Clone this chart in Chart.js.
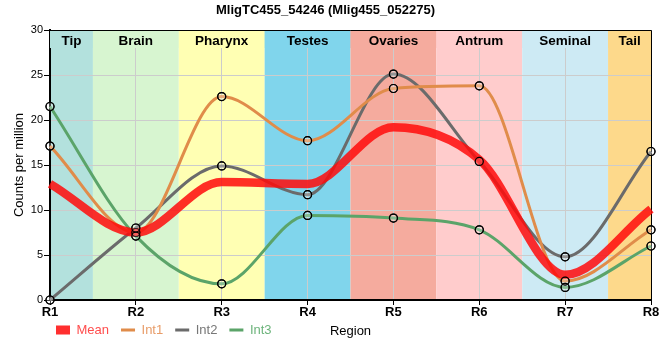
<!DOCTYPE html>
<html>
<head>
<meta charset="utf-8">
<script src="https://cdn.jsdelivr.net/npm/chart.js@4.4.0/dist/chart.umd.min.js"></script>
<style>
html,body{margin:0;padding:0;background:#fff;}
#wrap{width:660px;height:360px;}
</style>
</head>
<body>
<div id="wrap"><canvas id="c" width="660" height="360"></canvas></div>
<script>
// ---- data ----
const titleText = 'MligTC455_54246 (Mlig455_052275)';
const regions = ['R1', 'R2', 'R3', 'R4', 'R5', 'R6', 'R7', 'R8'];
const tissues = ['Tip', 'Brain', 'Pharynx', 'Testes', 'Ovaries', 'Antrum', 'Seminal', 'Tail'];
const meanVals = [12.9, 7.5, 13.1, 12.9, 19.2, 15.6, 2.8, 10.1];
const int1Vals = [17.1, 7.5, 22.6, 17.7, 23.5, 23.8, 2.1, 7.8];
const int2Vals = [0.0, 8.0, 14.9, 11.7, 25.1, 15.4, 4.8, 16.5];
const int3Vals = [21.5, 7.1, 1.8, 9.4, 9.1, 7.8, 1.4, 6.0];
const yTicks = [0, 5, 10, 15, 20, 25, 30];

// ---- styles ----
const bandColors = ['#b3e1dd', '#d7f5d0', '#ffffb3', '#80d5ec', '#f5ab9e', '#ffcccc', '#cdeaf4', '#fdd98b'];
const lineColors = ['rgba(255,10,10,0.85)', '#e08c4a', '#6b6b6b', '#5ba469'];
const legendTextColors = ['#ff4d4d', '#e89c68', '#777777', '#6db47c'];
const FONT = "'Liberation Sans', Arial, Helvetica, sans-serif";
Chart.defaults.font.family = FONT;
Chart.defaults.color = '#000';

const bandPlugin = {
  id: 'bands',
  beforeDraw(chart) {
    const {ctx, chartArea: a, scales: {x}} = chart;
    ctx.save();
    ctx.fillStyle = '#fff';
    ctx.fillRect(0, 0, chart.width, chart.height);
    tissues.forEach((t, i) => {
      const x0 = Math.max(a.left, x.getPixelForValue(i - 0.5));
      const x1 = Math.min(a.right, x.getPixelForValue(i + 0.5));
      ctx.fillStyle = bandColors[i];
      ctx.fillRect(x0, a.top, x1 - x0, a.bottom - a.top);
    });
    ctx.restore();
  },
  beforeDatasetsDraw(chart) {
    const {ctx, chartArea: a, scales: {x}} = chart;
    ctx.save();
    tissues.forEach((t, i) => {
      const x0 = Math.max(a.left, x.getPixelForValue(i - 0.5));
      const x1 = Math.min(a.right, x.getPixelForValue(i + 0.5));
      ctx.fillStyle = bandColors[i];
      ctx.fillRect(x0, a.top + 1, x1 - x0, 17);
      ctx.fillStyle = '#000';
      ctx.font = 'bold 13.5px ' + FONT;
      ctx.textAlign = 'center';
      ctx.textBaseline = 'middle';
      ctx.fillText(t, (x0 + x1) / 2, a.top + 11);
    });
    ctx.strokeStyle = '#000';
    ctx.lineWidth = 1;
    ctx.beginPath();
    ctx.moveTo(a.left, a.top + 0.5);
    ctx.lineTo(a.right + 0.5, a.top + 0.5);
    ctx.lineTo(a.right + 0.5, a.bottom);
    ctx.stroke();
    ctx.restore();
  },
  afterDatasetsDraw(chart) {
    const ctx = chart.ctx;
    for (let d = 1; d < chart.data.datasets.length; d++) {
      const meta = chart.getDatasetMeta(d);
      meta.data.forEach(pt => pt.draw(ctx));
    }
  },
  afterLayout(chart) {
    const lg = chart.legend;
    if (lg) {
      const dy = 13.5;
      lg.top -= dy; lg.bottom -= dy;
      lg.left = 44;
    }
  }
};

const mkLine = (label, data, i, w, pts) => ({
  label, data,
  borderColor: lineColors[i],
  backgroundColor: lineColors[i],
  borderWidth: w,
  fill: false,
  cubicInterpolationMode: 'monotone',
  pointRadius: pts ? 4 : 0,
  pointBackgroundColor: 'rgba(255,255,255,0.15)',
  pointBorderColor: '#000',
  pointBorderWidth: 1.2,
  clip: false
});

new Chart(document.getElementById('c'), {
  type: 'line',
  data: {
    labels: regions,
    datasets: [
      mkLine('Mean', meanVals, 0, 8.5, false),
      mkLine('Int1', int1Vals, 1, 3, true),
      mkLine('Int2', int2Vals, 2, 3, true),
      mkLine('Int3', int3Vals, 3, 3, true)
    ]
  },
  plugins: [bandPlugin],
  options: {
    responsive: false,
    animation: false,
    events: [],
    layout: {padding: {left: 0, right: 9, top: 0, bottom: 0}},
    plugins: {
      title: {
        display: true, text: titleText, color: '#000',
        font: {size: 13, weight: 'bold', family: FONT},
        padding: {top: 3, bottom: 11.4}
      },
      legend: {
        position: 'bottom', align: 'start',
        labels: {
          usePointStyle: true, pointStyleWidth: 14, boxHeight: 9, padding: 12,
          font: {size: 13, family: FONT},
          generateLabels(chart) {
            return chart.data.datasets.map((ds, i) => ({
              text: ds.label, datasetIndex: i, hidden: false,
              fillStyle: lineColors[i], strokeStyle: lineColors[i],
              lineWidth: i === 0 ? 0 : 3,
              pointStyle: i === 0 ? 'rect' : 'line',
              fontColor: legendTextColors[i]
            }));
          }
        }
      },
      tooltip: {enabled: false}
    },
    scales: {
      x: {
        offset: false,
        grid: {color: '#cccccc', tickColor: '#000', tickLength: 5, lineWidth: 1},
        border: {color: '#000', width: 2},
        ticks: {font: {size: 13, weight: 'bold'}, color: '#000', padding: 0, maxRotation: 0, autoSkip: false},
        title: {display: true, text: 'Region', color: '#000', font: {size: 13}, padding: {top: 0, bottom: -13.8}},
        afterFit(s) { s.height = 25; }
      },
      y: {
        min: 0, max: 30,
        afterBuildTicks(s) { s.ticks = yTicks.map(v => ({value: v})); },
        grid: {color: '#cccccc', tickColor: '#000', tickLength: 6, lineWidth: 1},
        border: {color: '#000', width: 2},
        ticks: {font: {size: 11}, color: '#000', padding: 1},
        title: {display: true, text: 'Counts per million', color: '#000', font: {size: 13}, padding: {top: 12, bottom: 0}},
        afterFit(s) { s.width = 50; }
      }
    }
  }
});
</script>
</body>
</html>
